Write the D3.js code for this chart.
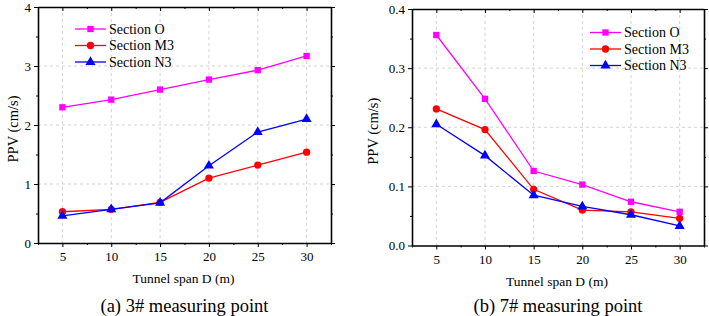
<!DOCTYPE html>
<html>
<head>
<meta charset="utf-8">
<script src="https://cdn.jsdelivr.net/npm/d3@7"></script>
<style>
  body { margin: 0; background: #fff; }
  svg, svg text { font-family: "Liberation Serif", "Times New Roman", serif; }
</style>
</head>
<body>
<svg id="chart" width="709" height="316"></svg>
<script>
// Data
const spans = [5, 10, 15, 20, 25, 30];
const seriesNames = ["Section O", "Section M3", "Section N3"];

// (a) 3# measuring point
const aSectionO = [2.30, 2.43, 2.60, 2.77, 2.93, 3.17];
const aSectionM3 = [0.53, 0.57, 0.69, 1.10, 1.32, 1.54];
const aSectionN3 = [0.46, 0.57, 0.68, 1.31, 1.88, 2.10];
const aYTicks = [0, 1, 2, 3, 4];

// (b) 7# measuring point
const bSectionO = [0.356, 0.248, 0.126, 0.103, 0.074, 0.057];
const bSectionM3 = [0.231, 0.196, 0.095, 0.060, 0.057, 0.046];
const bSectionN3 = [0.205, 0.152, 0.085, 0.066, 0.052, 0.033];
const bYTicks = [0.0, 0.1, 0.2, 0.3, 0.4];

const colors = ["#ff00ff", "#ff0000", "#0000ff"];
const shapes = [d3.symbolSquare, d3.symbolCircle, d3.symbolTriangle];
const shapeSizes = [40, 42, 44];
const FONT = "Liberation Serif";

const svg = d3.select("#chart").attr("font-family", FONT);

function drawPanel({ left, right, top, bottom, yMax, yTicks, yFmt, series, legendX, legendY, caption }) {
  const x = d3.scaleLinear().domain([2.5, 32.5]).range([left, right]);
  const y = d3.scaleLinear().domain([0, yMax]).range([bottom, top]);
  const g = svg.append("g");

  // grid
  g.selectAll(".gx").data(spans).enter().append("line")
    .attr("x1", d => x(d)).attr("x2", d => x(d))
    .attr("y1", top).attr("y2", bottom)
    .attr("stroke", "#c8c8c8").attr("stroke-dasharray", "3,3").attr("stroke-width", 0.8);
  g.selectAll(".gy").data(yTicks.slice(1, -1)).enter().append("line")
    .attr("x1", left).attr("x2", right)
    .attr("y1", d => y(d)).attr("y2", d => y(d))
    .attr("stroke", "#c8c8c8").attr("stroke-dasharray", "3,3").attr("stroke-width", 0.8);

  const minorX = d3.range(2.5, 33, 2.5).filter(v => v % 5 !== 0);
  const minorY = yTicks.slice(0, -1).map((v, i) => (v + yTicks[i + 1]) / 2);

  // axes
  g.append("g").attr("transform", `translate(0,${bottom})`)
    .call(d3.axisBottom(x).tickValues(spans).tickSize(4).tickPadding(5).tickSizeOuter(0));
  g.append("g").attr("transform", `translate(0,${bottom})`)
    .call(d3.axisBottom(x).tickValues(minorX).tickSize(2).tickFormat("").tickSizeOuter(0))
    .select(".domain").remove();
  g.append("g").attr("transform", `translate(0,${top})`)
    .call(d3.axisBottom(x).tickValues(spans).tickSize(4).tickFormat("").tickSizeOuter(0));
  g.append("g").attr("transform", `translate(0,${top})`)
    .call(d3.axisBottom(x).tickValues(minorX).tickSize(2).tickFormat("").tickSizeOuter(0))
    .select(".domain").remove();

  g.append("g").attr("transform", `translate(${left},0)`)
    .call(d3.axisLeft(y).tickValues(yTicks).tickFormat(yFmt).tickSize(4).tickPadding(3).tickSizeOuter(0));
  g.append("g").attr("transform", `translate(${left},0)`)
    .call(d3.axisLeft(y).tickValues(minorY).tickFormat("").tickSize(2).tickSizeOuter(0))
    .select(".domain").remove();
  g.append("g").attr("transform", `translate(${right},0)`)
    .call(d3.axisRight(y).tickValues(yTicks).tickFormat("").tickSize(4).tickSizeOuter(0));
  g.append("g").attr("transform", `translate(${right},0)`)
    .call(d3.axisRight(y).tickValues(minorY).tickFormat("").tickSize(2).tickSizeOuter(0))
    .select(".domain").remove();

  g.selectAll("g").attr("font-family", FONT);
  g.selectAll(".domain").attr("stroke", "#000").attr("stroke-width", 1.6);
  g.selectAll(".tick line").attr("stroke", "#000").attr("stroke-width", 1);
  g.selectAll(".tick text").attr("font-size", 13).attr("fill", "#000");

  // lines and markers
  const line = d3.line().x((d, i) => x(spans[i])).y(d => y(d));
  series.forEach((vals, k) => {
    g.append("path").datum(vals)
      .attr("d", line).attr("fill", "none")
      .attr("stroke", colors[k]).attr("stroke-width", 1.3);
    g.selectAll(null).data(vals).enter().append("path")
      .attr("d", d3.symbol().type(shapes[k]).size(shapeSizes[k]))
      .attr("transform", (d, i) => `translate(${x(spans[i])},${y(d)})`)
      .attr("fill", colors[k]);
  });

  // legend
  seriesNames.forEach((name, k) => {
    const ly = legendY + k * 16.5;
    g.append("line")
      .attr("x1", legendX).attr("x2", legendX + 31)
      .attr("y1", ly).attr("y2", ly)
      .attr("stroke", colors[k]).attr("stroke-width", 1.3);
    g.append("path")
      .attr("d", d3.symbol().type(shapes[k]).size(shapeSizes[k]))
      .attr("transform", `translate(${legendX + 15.5},${ly})`)
      .attr("fill", colors[k]);
    g.append("text")
      .attr("x", legendX + 34).attr("y", ly + 4.5)
      .attr("font-size", 14).text(name);
  });

  // axis titles
  g.append("text")
    .attr("x", (left + right) / 2 - 1).attr("y", bottom + 40)
    .attr("text-anchor", "middle").attr("font-size", 13.5)
    .text("Tunnel span D (m)");
  g.append("text")
    .attr("transform", `translate(${left - (left > 200 ? 34 : 20)},${(top + bottom) / 2 + 4}) rotate(-90)`)
    .attr("text-anchor", "middle").attr("font-size", 14.5)
    .text("PPV (cm/s)");

  // caption
  g.append("text")
    .attr("x", (left + right) / 2).attr("y", 312)
    .attr("text-anchor", "middle").attr("font-size", 18.5)
    .text(caption);
}

drawPanel({
  left: 38, right: 331, top: 7, bottom: 243,
  yMax: 4, yTicks: aYTicks, yFmt: d3.format("d"),
  series: [aSectionO, aSectionM3, aSectionN3],
  legendX: 75, legendY: 29,
  caption: "(a) 3# measuring point"
});

drawPanel({
  left: 412, right: 704, top: 9, bottom: 245.5,
  yMax: 0.4, yTicks: bYTicks, yFmt: d3.format(".1f"),
  series: [bSectionO, bSectionM3, bSectionN3],
  legendX: 590, legendY: 32.5,
  caption: "(b) 7# measuring point"
});
</script>
</body>
</html>
